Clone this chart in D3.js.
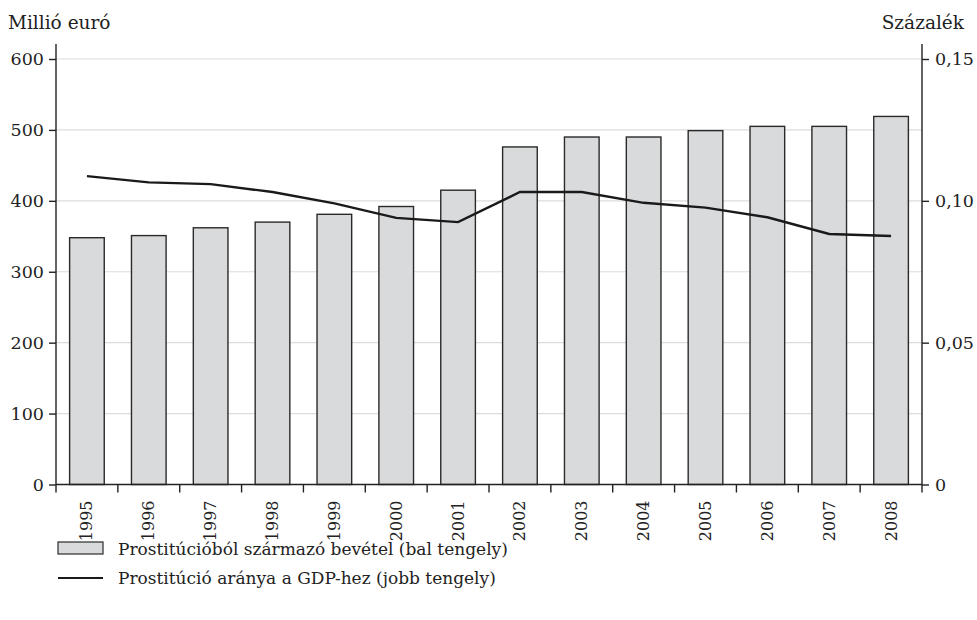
<!DOCTYPE html>
<html>
<head>
<meta charset="utf-8">
<script src="https://cdn.jsdelivr.net/npm/d3@7"></script>
<style>
html,body{margin:0;padding:0;background:#fff;}
svg{display:block;font-family:"DejaVu Serif","Liberation Serif",serif;}
</style>
</head>
<body>
<svg id="chart" width="977" height="620"></svg>
<script>
const years = ["1995","1996","1997","1998","1999","2000","2001","2002","2003","2004","2005","2006","2007","2008"];
const revenue = [348, 351, 362, 370, 381, 392, 415, 476, 490, 490, 499, 505, 505, 519];
const gdpShare = [0.1087, 0.1065, 0.1059, 0.1031, 0.0991, 0.0940, 0.0925, 0.1031, 0.1031, 0.0993, 0.0976, 0.0942, 0.0883, 0.0876];
const leftTicks = [0, 100, 200, 300, 400, 500, 600];
const rightTicks = [0, 0.05, 0.10, 0.15];
const leftTitle = "Millió euró";
const rightTitle = "Százalék";
const legendLabels = ["Prostitúcióból származó bevétel (bal tengely)", "Prostitúció aránya a GDP-hez (jobb tengely)"];

const svg = d3.select("#chart");
const L = 56, R = 922, T = 59, B = 484.5, axisTop = 44;
const fsTick = 17.5, fsYear = 16, fsTitle = 18.5, fsLegend = 17;
const FONT = "DejaVu Serif, Liberation Serif, serif";
const TXT = "#222";

const x = d3.scaleBand().domain(years).range([L, R]).paddingInner(0.44).paddingOuter(0.22);
const xb = d3.scaleBand().domain(years).range([L, R]);
const yL = d3.scaleLinear().domain([0, 600]).range([B, T]);
const yR = d3.scaleLinear().domain([0, 0.15]).range([B, T]);

// gridlines
svg.append("g").selectAll("line").data(leftTicks.filter(d => d > 0)).join("line")
  .attr("x1", L).attr("x2", R).attr("y1", d => yL(d)).attr("y2", d => yL(d))
  .attr("stroke", "#dcdcdc").attr("stroke-width", 1.2);

// bars
svg.append("g").selectAll("rect").data(years).join("rect")
  .attr("x", d => x(d)).attr("width", x.bandwidth())
  .attr("y", (d, i) => yL(revenue[i])).attr("height", (d, i) => B - yL(revenue[i]))
  .attr("fill", "#d9dadc").attr("stroke", "#2a2a2a").attr("stroke-width", 1.4);

// line
const line = d3.line().x((d, i) => xb(years[i]) + xb.bandwidth() / 2).y(d => yR(d));
svg.append("path").datum(gdpShare).attr("d", line)
  .attr("fill", "none").attr("stroke", "#1a1a1a").attr("stroke-width", 2.4);

// axes
const fmtR = v => v === 0 ? "0" : d3.format(".2f")(v).replace(".", ",");
const gL = svg.append("g").attr("transform", `translate(${L},0)`)
  .call(d3.axisLeft(yL).tickValues(leftTicks).tickSize(7).tickPadding(5));
gL.select(".domain").attr("d", `M0,${axisTop}V${B}`);
const gR = svg.append("g").attr("transform", `translate(${R},0)`)
  .call(d3.axisRight(yR).tickValues(rightTicks).tickSize(7).tickPadding(6).tickFormat(fmtR));
gR.select(".domain").attr("d", `M0,${axisTop}V${B}`);

const gB = svg.append("g").attr("transform", `translate(0,${B})`);
gB.append("line").attr("x1", L).attr("x2", R).attr("stroke", "#222").attr("stroke-width", 1.4);
const boundaries = years.map(d => xb(d)).concat([R]);
gB.selectAll("line.tk").data(boundaries).join("line").attr("class", "tk")
  .attr("x1", d => d).attr("x2", d => d).attr("y1", 0).attr("y2", 8)
  .attr("stroke", "#222").attr("stroke-width", 1.4);
gB.selectAll("text").data(years).join("text")
  .attr("transform", d => `translate(${xb(d) + xb.bandwidth() / 2 + 5.5},16) rotate(-90)`)
  .attr("text-anchor", "end").attr("font-size", fsYear).attr("font-family", FONT).attr("fill", TXT).text(d => d);

[gL, gR].forEach(g => {
  g.selectAll(".domain").attr("stroke", "#222").attr("stroke-width", 1.4);
  g.selectAll(".tick line").attr("stroke", "#222").attr("stroke-width", 1.4);
  g.selectAll(".tick text").attr("font-size", fsTick).attr("fill", TXT).attr("font-family", FONT);
});

// titles
svg.append("text").attr("x", 8).attr("y", 29).attr("font-size", fsTitle).attr("font-family", FONT).attr("fill", TXT).text(leftTitle);
svg.append("text").attr("x", 964).attr("y", 29).attr("text-anchor", "end").attr("font-size", fsTitle).attr("font-family", FONT).attr("fill", TXT).text(rightTitle);

// legend
const lg = svg.append("g");
lg.append("rect").attr("x", 58).attr("y", 542).attr("width", 45).attr("height", 12)
  .attr("fill", "#d9dadc").attr("stroke", "#2a2a2a").attr("stroke-width", 1.2);
lg.append("text").attr("x", 118).attr("y", 555).attr("font-size", fsLegend).attr("font-family", FONT).attr("fill", TXT).text(legendLabels[0]);
lg.append("line").attr("x1", 58).attr("x2", 103).attr("y1", 578).attr("y2", 578)
  .attr("stroke", "#1a1a1a").attr("stroke-width", 2.2);
lg.append("text").attr("x", 118).attr("y", 584).attr("font-size", fsLegend).attr("font-family", FONT).attr("fill", TXT).text(legendLabels[1]);
</script>
</body>
</html>
